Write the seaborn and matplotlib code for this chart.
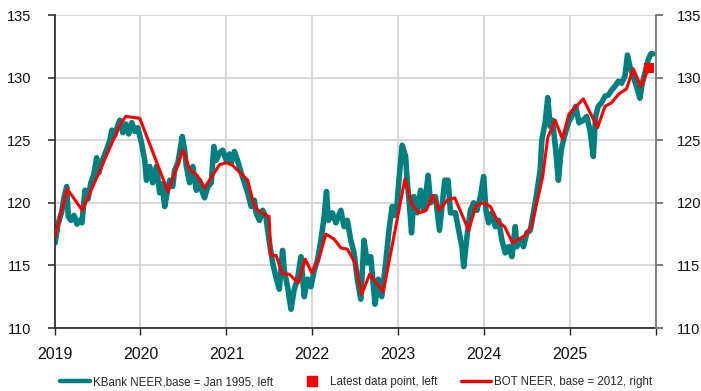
import matplotlib
matplotlib.use("Agg")
import matplotlib.pyplot as plt
import seaborn as sns
from matplotlib.lines import Line2D

# KBank NEER (base = Jan 1995), left axis: decimal year and index level
kbank_year = [
    2019.006, 2019.041, 2019.084, 2019.110, 2019.142, 2019.160, 2019.191, 2019.226,
    2019.261, 2019.296, 2019.319, 2019.354, 2019.389, 2019.423, 2019.458, 2019.490,
    2019.516, 2019.539, 2019.574, 2019.609, 2019.644, 2019.667, 2019.702, 2019.737,
    2019.760, 2019.795, 2019.829, 2019.864, 2019.899, 2019.934, 2019.969, 2020.012,
    2020.050, 2020.070, 2020.108, 2020.143, 2020.186, 2020.224, 2020.253, 2020.282,
    2020.305, 2020.340, 2020.375, 2020.398, 2020.436, 2020.487, 2020.514, 2020.534,
    2020.572, 2020.610, 2020.650, 2020.688, 2020.717, 2020.746, 2020.784, 2020.824,
    2020.854, 2020.882, 2020.920, 2020.958, 2020.998, 2021.036, 2021.059, 2021.094,
    2021.129, 2021.172, 2021.210, 2021.248, 2021.288, 2021.326, 2021.346, 2021.384,
    2021.422, 2021.459, 2021.497, 2021.538, 2021.576, 2021.616, 2021.654, 2021.674,
    2021.712, 2021.752, 2021.790, 2021.828, 2021.868, 2021.906, 2021.944, 2021.984,
    2022.022, 2022.060, 2022.100, 2022.138, 2022.165, 2022.188, 2022.234, 2022.274,
    2022.332, 2022.370, 2022.408, 2022.448, 2022.486, 2022.524, 2022.564, 2022.602,
    2022.640, 2022.680, 2022.730, 2022.768, 2022.807, 2022.854, 2022.892, 2022.930,
    2022.961, 2022.988, 2023.008, 2023.046, 2023.086, 2023.104, 2023.132, 2023.155,
    2023.182, 2023.220, 2023.260, 2023.298, 2023.348, 2023.376, 2023.434, 2023.480,
    2023.510, 2023.542, 2023.580, 2023.608, 2023.666, 2023.704, 2023.742, 2023.762,
    2023.800, 2023.840, 2023.878, 2023.916, 2023.956, 2023.994, 2024.021, 2024.052,
    2024.090, 2024.130, 2024.168, 2024.207, 2024.246, 2024.284, 2024.323, 2024.362,
    2024.381, 2024.420, 2024.458, 2024.497, 2024.536, 2024.574, 2024.613, 2024.652,
    2024.671, 2024.710, 2024.740, 2024.768, 2024.795, 2024.833, 2024.864, 2024.896,
    2024.934, 2024.980, 2025.019, 2025.065, 2025.104, 2025.154, 2025.193, 2025.232,
    2025.270, 2025.297, 2025.328, 2025.367, 2025.406, 2025.445, 2025.483, 2025.522,
    2025.561, 2025.599, 2025.638, 2025.668, 2025.696, 2025.735, 2025.773, 2025.813,
    2025.840, 2025.871, 2025.908, 2025.940, 2025.966,
]
kbank_value = [
    116.8, 118.3, 119.3, 120.4, 121.3, 118.9, 118.6, 119.0,
    118.3, 118.6, 118.4, 121.0, 120.3, 121.6, 122.3, 123.6,
    122.4, 123.0, 123.7, 124.3, 125.0, 125.8, 125.4, 126.2,
    126.6, 125.6, 126.3, 125.5, 126.4, 125.7, 126.0, 124.8,
    123.4, 121.8, 122.9, 121.6, 122.9, 120.8, 121.5, 119.7,
    120.6, 121.8, 121.3, 122.6, 123.2, 125.3, 124.2, 122.9,
    121.6, 122.9, 121.0, 121.8, 120.9, 120.4, 121.3, 121.6,
    124.5, 123.4, 124.0, 124.2, 123.4, 123.9, 123.2, 124.1,
    123.4, 122.4, 121.6, 120.8, 119.7, 120.2, 119.2, 118.6,
    119.4, 118.9, 117.0, 115.2, 114.1, 113.1, 116.2, 114.6,
    113.3, 111.5, 113.1, 113.9, 115.7, 112.5, 113.9, 113.3,
    114.6, 115.4, 117.0, 118.9, 120.9, 118.6, 119.2, 118.4,
    119.4, 118.1, 118.6, 117.0, 116.0, 113.9, 112.3, 117.0,
    115.2, 115.7, 111.9, 113.9, 112.5, 115.2, 117.8, 119.7,
    119.0, 120.0, 121.8, 124.6, 123.7, 121.8, 119.7, 117.6,
    120.5, 119.2, 121.0, 119.4, 122.2, 120.0, 120.5, 117.8,
    119.7, 121.8, 121.8, 119.2, 119.2, 117.8, 116.5, 114.9,
    117.3, 119.4, 120.0, 119.4, 120.5, 122.1, 119.4, 118.4,
    119.2, 118.1, 118.6, 117.0, 116.0, 116.5, 115.7, 118.1,
    116.5, 117.0, 116.5, 117.6, 117.8, 119.2, 120.8, 122.6,
    125.0, 126.4, 128.4, 126.1, 126.6, 124.2, 121.8, 124.2,
    125.3, 126.4, 126.9, 127.7, 126.4, 126.6, 126.9, 125.8,
    123.7, 126.9, 127.7, 128.0, 128.5, 128.6, 129.0, 129.3,
    129.7, 129.55, 130.1, 131.8, 130.9, 130.1, 129.3, 128.35,
    129.55, 130.35, 131.4, 131.9, 131.9,
]

# Latest data point (left axis)
latest_year = [2025.917]
latest_value = [130.8]

# BOT NEER (base = 2012), right axis
bot_year = [
    2019.006, 2019.148, 2019.323, 2019.760, 2019.829, 2019.992, 2020.320, 2020.494,
    2020.578, 2020.659, 2020.746, 2020.920, 2021.001, 2021.071, 2021.248, 2021.326,
    2021.404, 2021.497, 2021.518, 2021.578, 2021.654, 2021.732, 2021.836, 2021.918,
    2021.995, 2022.080, 2022.158, 2022.254, 2022.332, 2022.408, 2022.498, 2022.575,
    2022.668, 2022.826, 2023.078, 2023.162, 2023.248, 2023.325, 2023.403, 2023.480,
    2023.568, 2023.658, 2023.820, 2023.905, 2023.994, 2024.072, 2024.160, 2024.238,
    2024.331, 2024.478, 2024.548, 2024.586, 2024.679, 2024.740, 2024.826, 2024.911,
    2024.988, 2025.154, 2025.320, 2025.406, 2025.483, 2025.569, 2025.657, 2025.735,
    2025.824, 2025.900,
]
bot_value = [
    117.3, 121.1, 119.4, 126.2, 126.9, 126.75, 120.9, 124.2,
    122.6, 122.2, 121.2, 123.05, 123.2, 123.0, 121.8, 119.7,
    119.2, 118.9, 115.8, 115.8, 114.3, 114.3, 113.6, 115.5,
    114.4, 115.6, 117.5, 117.1, 116.4, 116.3, 115.2, 112.7,
    114.3, 112.9, 121.9, 119.8, 119.2, 119.4, 120.6, 119.4,
    120.2, 120.4, 117.8, 119.8, 120.0, 119.7, 118.5, 118.1,
    116.8, 117.4, 118.1, 119.2, 122.0, 125.2, 126.6, 125.1,
    127.1, 128.3, 126.0, 127.7, 128.0, 128.7, 129.1, 130.7,
    129.3, 130.55,
]

year_ticks = [2019, 2020, 2021, 2022, 2023, 2024, 2025, 2026]
year_labels = ["2019", "2020", "2021", "2022", "2023", "2024", "2025", ""]
value_ticks = [110, 115, 120, 125, 130, 135]

TEAL = "#008080"
RED = "#ff0000"
GRID = "#d4d4d4"

sns.set_theme(style="white")
plt.rcParams["font.family"] = ["Liberation Sans", "DejaVu Sans"]

fig = plt.figure(figsize=(7.01, 3.91), dpi=100)
ax = fig.add_axes([0.0778, 0.1611, 0.858, 0.8005])
ax2 = ax.twinx()

sns.lineplot(x=kbank_year, y=kbank_value, ax=ax, color=TEAL, linewidth=4.0,
             solid_joinstyle="round", solid_capstyle="round")
sns.lineplot(x=bot_year, y=bot_value, ax=ax2, color=RED, linewidth=2.2)
# The square is plotted on the twin axis so it sits above the red line;
# both axes share the same 110-135 range.
sns.scatterplot(x=latest_year, y=latest_value, ax=ax2, color=RED, marker="s",
                s=55, linewidth=0, zorder=5)

for a in (ax, ax2):
    a.set_xlim(2019, 2026)
    a.set_ylim(110, 135)
    a.set_yticks(value_ticks)
    a.set_xlabel("")
    a.set_ylabel("")

ax.set_xticks(year_ticks)
ax.set_xticklabels(year_labels)
ax.grid(True, color=GRID, linewidth=1.3)
ax2.grid(False)

ax.tick_params(axis="y", direction="out", length=5, width=1.2, color="#333333",
               labelsize=10.5, pad=12, left=True, labelcolor="#111111")
ax2.tick_params(axis="y", direction="out", length=5, width=1.2, color="#666666",
                labelsize=10.5, pad=10, right=True, labelcolor="#111111")
ax.tick_params(axis="x", direction="out", length=5, width=1.0, color="#222222",
               labelsize=11.5, pad=9, bottom=True, labelcolor="#111111")

for a in (ax, ax2):
    a.spines["top"].set_visible(False)
ax.spines["left"].set_color("#333333")
ax.spines["left"].set_linewidth(1.3)
ax.spines["bottom"].set_color("#222222")
ax.spines["bottom"].set_linewidth(1.2)
ax2.spines["right"].set_color("#777777")
ax2.spines["right"].set_linewidth(1.3)
ax2.spines["left"].set_visible(False)
ax2.spines["bottom"].set_visible(False)
ax.spines["right"].set_visible(False)

handles = [
    Line2D([], [], color=TEAL, linewidth=3.2, solid_capstyle="round"),
    Line2D([], [], color=RED, marker="s", linestyle="none", markersize=7),
    Line2D([], [], color=RED, linewidth=2.4),
]
labels = [
    "KBank NEER,base = Jan 1995, left",
    "Latest data point, left",
    "BOT NEER, base = 2012, right",
]
fig.legend(handles, labels, loc="lower center", bbox_to_anchor=(0.508, -0.02),
           ncol=3, frameon=False, fontsize=8.3, handlelength=2.6,
           handletextpad=0.25, columnspacing=2.1)

fig.savefig("out.png", dpi=100)
